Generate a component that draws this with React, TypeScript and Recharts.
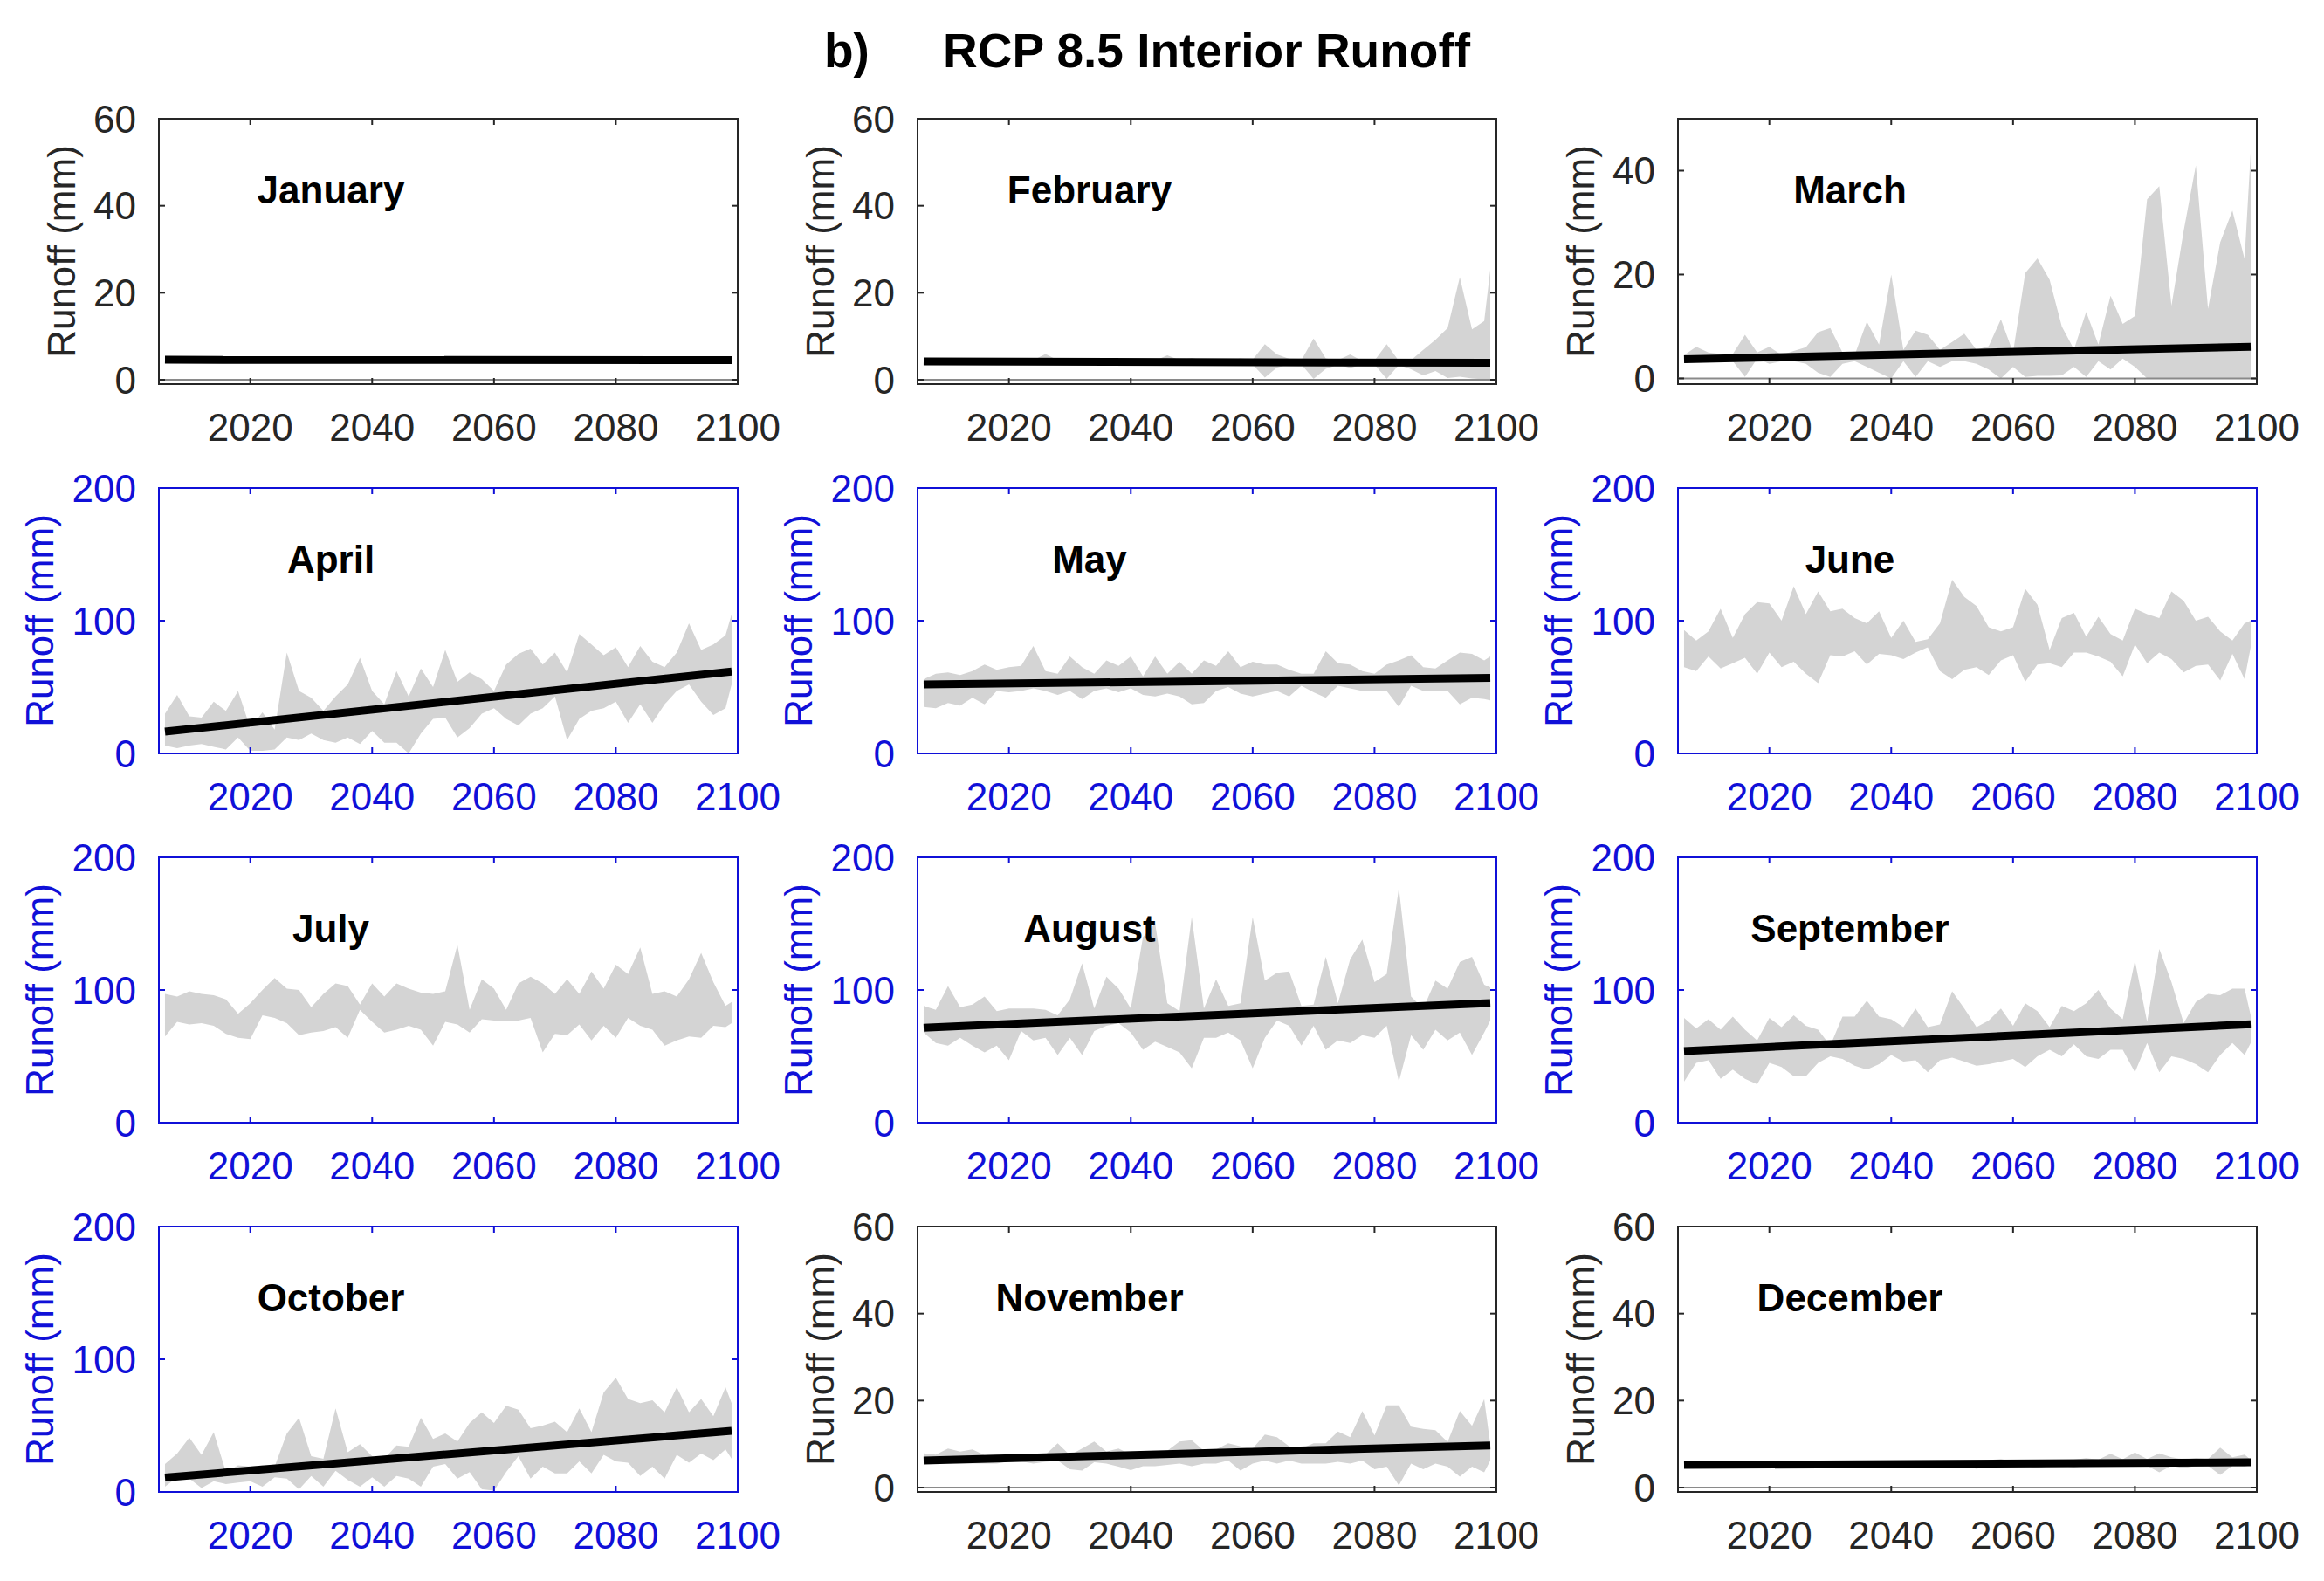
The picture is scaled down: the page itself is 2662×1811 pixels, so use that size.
import { Area, ComposedChart, Line, ReferenceArea, ReferenceLine, XAxis, YAxis } from "recharts";

// Sample years (every second year, plus the final year of the record)
const YEARS = [
  2006, 2008, 2010, 2012, 2014, 2016, 2018, 2020, 2022, 2024, 2026, 2028, 2030, 2032, 2034, 2036,
  2038, 2040, 2042, 2044, 2046, 2048, 2050, 2052, 2054, 2056, 2058, 2060, 2062, 2064, 2066, 2068,
  2070, 2072, 2074, 2076, 2078, 2080, 2082, 2084, 2086, 2088, 2090, 2092, 2094, 2096, 2098, 2099,
];
const X_TICKS = [2020, 2040, 2060, 2080, 2100];

// Ensemble min / max envelope (mm)
const FEB_HIGH = [4.6, 4.5, 4.5, 4.5, 4.6, 4.5, 4.6, 4.4, 4.6, 4.5, 5.9, 4.5, 4.6, 4.5, 4.8, 4.4, 4.5, 4.6, 4.5, 4.4, 5.6, 4.5, 5.0, 4.4, 4.5, 4.4, 4.9, 4.6, 8.2, 5.8, 4.8, 4.5, 9.5, 4.9, 4.5, 5.8, 4.3, 4.4, 8.2, 4.3, 4.5, 6.9, 9.2, 11.9, 23.6, 11.6, 13.5, 25.3];
const FEB_LOW = [3.7, 3.7, 3.7, 3.7, 3.7, 3.7, 3.7, 3.7, 3.6, 3.7, 3.4, 3.7, 3.7, 3.7, 3.6, 3.7, 3.7, 3.7, 3.7, 3.6, 3.2, 3.7, 3.6, 3.6, 3.6, 3.6, 3.3, 3.5, 0.5, 2.8, 3.5, 3.5, 0.2, 2.5, 3.5, 2.7, 3.5, 3.5, 0.2, 3.4, 2.4, 1.0, 2.0, 0.4, 0.7, 0.3, 0.1, 0.2];
const MAR_HIGH = [4.5, 6.1, 5.0, 4.7, 4.7, 8.4, 5.0, 6.1, 4.5, 5.3, 6.0, 8.9, 9.7, 5.0, 4.5, 10.9, 6.5, 20.0, 5.5, 9.2, 8.4, 5.5, 7.0, 8.6, 5.5, 6.2, 11.4, 5.0, 20.3, 23.1, 19.0, 10.0, 5.6, 12.8, 6.5, 15.9, 10.5, 12.0, 34.5, 37.0, 14.0, 28.4, 41.0, 13.4, 26.2, 32.3, 23.0, 43.5];
const MAR_LOW = [3.3, 3.8, 3.8, 3.8, 3.3, 0.3, 3.8, 2.8, 3.3, 3.3, 2.8, 1.1, 0.3, 2.8, 3.3, 2.2, 1.1, 0.0, 3.3, 0.3, 3.3, 2.2, 3.3, 3.3, 2.8, 1.7, 0.0, 2.2, 0.3, 0.5, 0.5, 0.6, 2.2, 0.3, 3.3, 1.7, 3.8, 2.2, 0.0, 0.0, 0, 0, 0, 0, 0, 0, 0, 0];
const APR_HIGH = [30, 44, 28, 27, 39, 32, 47, 19, 31, 18, 76, 47, 42, 32, 43, 52, 72, 47, 37, 62, 43, 64, 50, 78, 54, 61, 56, 47, 67, 75, 79, 67, 76, 61, 90, 82, 74, 80, 65, 81, 69, 65, 76, 98, 78, 82, 89, 105];
const APR_LOW = [6, 4, 6, 7, 5, 3, 12, 2, 2, 3, 12, 10, 15, 10, 8, 12, 7, 17, 8, 8, 0, 15, 26, 27, 12, 19, 30, 34, 26, 21, 30, 34, 43, 10, 26, 32, 34, 39, 23, 37, 23, 37, 47, 52, 39, 29, 34, 52];
const MAY_HIGH = [56, 60, 61, 59, 62, 67, 63, 65, 66, 81, 62, 60, 73, 65, 60, 70, 66, 73, 58, 73, 60, 69, 60, 70, 66, 77, 65, 69, 67, 67, 63, 60, 60, 77, 68, 67, 62, 60, 67, 70, 74, 65, 64, 70, 76, 75, 70, 73];
const MAY_LOW = [35, 34, 38, 36, 42, 37, 47, 46, 47, 49, 47, 44, 47, 41, 47, 49, 46, 49, 44, 43, 45, 43, 37, 38, 47, 50, 45, 43, 45, 47, 43, 51, 46, 42, 51, 49, 47, 47, 47, 35, 51, 47, 47, 47, 37, 42, 41, 40];
const JUN_HIGH = [93, 85, 92, 109, 87, 105, 114, 113, 100, 126, 105, 122, 107, 109, 102, 98, 107, 87, 100, 84, 86, 98, 131, 118, 111, 95, 92, 95, 124, 112, 78, 102, 106, 88, 103, 90, 85, 109, 105, 102, 122, 115, 100, 103, 92, 85, 98, 100];
const JUN_LOW = [65, 62, 73, 64, 68, 72, 60, 76, 65, 69, 60, 53, 74, 73, 77, 67, 75, 74, 71, 76, 80, 62, 56, 63, 65, 59, 70, 74, 54, 67, 68, 65, 76, 76, 73, 69, 58, 82, 68, 76, 71, 61, 66, 67, 55, 75, 56, 80];
const JUL_HIGH = [97, 95, 99, 97, 96, 93, 82, 90, 100, 109, 101, 100, 87, 97, 105, 103, 89, 105, 95, 105, 101, 98, 97, 99, 134, 85, 108, 101, 85, 105, 110, 105, 97, 108, 97, 114, 101, 119, 112, 132, 97, 99, 95, 108, 128, 106, 88, 91];
const JUL_LOW = [65, 76, 74, 75, 73, 67, 64, 63, 81, 79, 75, 66, 68, 69, 72, 64, 85, 76, 68, 70, 73, 70, 58, 76, 74, 68, 78, 77, 77, 77, 79, 53, 67, 66, 74, 62, 73, 64, 79, 73, 70, 58, 62, 65, 64, 73, 72, 75];
const AUG_HIGH = [88, 85, 103, 87, 89, 95, 84, 86, 86, 86, 85, 81, 93, 120, 86, 110, 101, 86, 140, 150, 90, 84, 155, 86, 108, 88, 90, 155, 107, 113, 114, 88, 89, 125, 90, 123, 138, 106, 112, 177, 95, 86, 107, 101, 121, 125, 104, 102];
const AUG_LOW = [68, 60, 58, 64, 58, 53, 58, 47, 69, 62, 64, 51, 64, 51, 69, 73, 75, 68, 55, 61, 57, 53, 41, 64, 64, 68, 62, 41, 64, 77, 73, 58, 73, 55, 62, 60, 66, 64, 73, 31, 66, 55, 70, 62, 68, 51, 68, 77];
const SEP_HIGH = [79, 71, 78, 70, 80, 70, 62, 79, 72, 81, 73, 70, 58, 80, 80, 92, 80, 78, 72, 86, 72, 74, 99, 86, 72, 77, 86, 73, 90, 84, 72, 88, 84, 90, 100, 86, 78, 122, 76, 131, 106, 75, 91, 97, 96, 101, 101, 81];
const SEP_LOW = [31, 45, 47, 33, 40, 33, 29, 45, 42, 35, 35, 45, 50, 48, 43, 40, 44, 51, 46, 47, 38, 47, 49, 46, 43, 44, 46, 48, 42, 50, 55, 50, 59, 50, 48, 55, 55, 38, 60, 38, 50, 48, 44, 38, 51, 60, 51, 60];
const OCT_HIGH = [21, 29, 41, 28, 45, 15, 20, 19, 20, 19, 44, 56, 27, 25, 63, 30, 36, 27, 25, 35, 34, 56, 40, 44, 38, 52, 60, 52, 65, 62, 48, 50, 53, 45, 63, 45, 75, 86, 70, 67, 69, 60, 79, 60, 70, 57, 79, 67];
const OCT_LOW = [4, 11, 10, 3, 8, 6, 7, 8, 4, 11, 10, 2, 12, 4, 16, 9, 4, 11, 4, 12, 10, 4, 19, 21, 10, 15, 2, 1, 15, 27, 10, 19, 14, 14, 23, 14, 28, 23, 22, 12, 19, 10, 28, 22, 29, 24, 32, 25];
const NOV_HIGH = [7.9, 7.6, 9.0, 8.3, 8.8, 7.5, 7.6, 7.3, 7.5, 7.0, 7.6, 10.2, 7.5, 9.0, 10.6, 8.3, 9.0, 7.6, 8.0, 8.0, 8.5, 10.6, 10.9, 8.5, 8.8, 10.2, 9.5, 9.0, 12.2, 11.6, 9.5, 9.0, 10.2, 10.2, 12.9, 11.6, 17.6, 12.0, 18.9, 18.9, 14.0, 13.5, 13.2, 10.5, 17.6, 14.2, 20.3, 10.0];
const NOV_LOW = [5.5, 6.0, 5.6, 5.5, 5.5, 5.5, 5.5, 6.0, 6.0, 5.5, 5.9, 6.2, 4.2, 3.9, 5.8, 5.5, 4.8, 4.0, 4.9, 4.9, 5.2, 5.5, 4.9, 5.5, 5.5, 6.2, 3.9, 5.5, 6.2, 5.5, 6.2, 5.5, 5.5, 5.5, 5.9, 5.5, 6.2, 4.2, 4.8, 0.5, 5.5, 4.2, 5.5, 4.8, 2.5, 4.8, 3.5, 6.2];
const DEC_HIGH = [5.6, 5.6, 5.7, 5.5, 5.6, 5.6, 5.5, 5.6, 5.5, 5.7, 5.6, 5.6, 5.8, 6.2, 5.7, 5.7, 5.6, 5.8, 5.7, 6.0, 5.9, 6.0, 5.8, 5.9, 6.0, 6.3, 6.6, 6.0, 6.1, 6.2, 6.0, 6.2, 6.4, 6.8, 6.4, 7.8, 6.5, 8.1, 6.6, 7.9, 7.0, 6.5, 6.8, 6.6, 9.2, 7.0, 7.6, 6.4];
const DEC_LOW = [4.9, 4.9, 4.9, 4.9, 4.9, 4.9, 4.9, 4.9, 4.9, 4.9, 4.9, 4.9, 4.9, 4.9, 4.9, 4.9, 4.9, 4.5, 4.9, 4.9, 4.9, 5.0, 5.0, 5.0, 4.3, 5.0, 5.0, 5.0, 5.0, 4.4, 5.0, 5.0, 4.6, 5.0, 5.0, 5.0, 5.0, 5.0, 5.0, 3.5, 5.0, 4.4, 5.0, 5.0, 2.9, 5.0, 4.8, 5.2];

// Linear trend, value at first and last year
const JAN_TREND = [4.6, 4.5];
const FEB_TREND = [4.2, 3.9];
const MAR_TREND = [3.7, 6.1];
const APR_TREND = [16.4, 61.7];
const MAY_TREND = [51.9, 56.9];
const AUG_TREND = [71.6, 90.2];
const SEP_TREND = [54.0, 74.2];
const OCT_TREND = [10.9, 46.0];
const NOV_TREND = [6.2, 9.7];
const DEC_TREND = [5.2, 5.8];

const FONT = "'Liberation Sans', Arial, Helvetica, sans-serif";
const BLUE = "#1010d8";
const DARK = "#262626";
const BAND = "#d4d4d4";

const PLOT_W = 663;
const PLOT_H = 304;
const TICK = 7;
const COL_LEFT = [182, 1051, 1922];
const ROW_TOP = [136, 559, 982, 1405];
const Y_AXIS_W = 170;
const TOP_M = 40;
const RIGHT_M = 64;
const X_AXIS_H = 90;

type Scale = "small" | "march" | "large";

const AXES: Record<
  Scale,
  { domain: [number, number]; ticks: number[]; color: string; zeroLine: boolean; labelGap: number }
> = {
  small: { domain: [-1, 60], ticks: [0, 20, 40, 60], color: DARK, zeroLine: true, labelGap: 96 },
  march: { domain: [-1.1, 50], ticks: [0, 20, 40], color: DARK, zeroLine: true, labelGap: 96 },
  large: { domain: [0, 200], ticks: [0, 100, 200], color: BLUE, zeroLine: false, labelGap: 121 },
};

type PanelDef = {
  month: string;
  low: number[] | null;
  high: number[] | null;
  trend: number[] | null;
  scale: Scale;
};

const PANELS: PanelDef[] = [
  { month: "January", low: null, high: null, trend: JAN_TREND, scale: "small" },
  { month: "February", low: FEB_LOW, high: FEB_HIGH, trend: FEB_TREND, scale: "small" },
  { month: "March", low: MAR_LOW, high: MAR_HIGH, trend: MAR_TREND, scale: "march" },
  { month: "April", low: APR_LOW, high: APR_HIGH, trend: APR_TREND, scale: "large" },
  { month: "May", low: MAY_LOW, high: MAY_HIGH, trend: MAY_TREND, scale: "large" },
  { month: "June", low: JUN_LOW, high: JUN_HIGH, trend: null, scale: "large" },
  { month: "July", low: JUL_LOW, high: JUL_HIGH, trend: null, scale: "large" },
  { month: "August", low: AUG_LOW, high: AUG_HIGH, trend: AUG_TREND, scale: "large" },
  { month: "September", low: SEP_LOW, high: SEP_HIGH, trend: SEP_TREND, scale: "large" },
  { month: "October", low: OCT_LOW, high: OCT_HIGH, trend: OCT_TREND, scale: "large" },
  { month: "November", low: NOV_LOW, high: NOV_HIGH, trend: NOV_TREND, scale: "small" },
  { month: "December", low: DEC_LOW, high: DEC_HIGH, trend: DEC_TREND, scale: "small" },
];

// MATLAB-style inward ticks on both sides of the box
function XTick({ x, y, payload, color }: any) {
  return (
    <g>
      <line x1={x} x2={x} y1={y} y2={y - TICK} stroke={color} strokeWidth={2} />
      <line x1={x} x2={x} y1={y - PLOT_H} y2={y - PLOT_H + TICK} stroke={color} strokeWidth={2} />
      <text x={x} y={y + 65} textAnchor="middle" fontSize={44} fontFamily={FONT} fill={color}>
        {payload.value}
      </text>
    </g>
  );
}

function YTick({ x, y, payload, color }: any) {
  return (
    <g>
      <line x1={x} x2={x + TICK} y1={y} y2={y} stroke={color} strokeWidth={2} />
      <line x1={x + PLOT_W} x2={x + PLOT_W - TICK} y1={y} y2={y} stroke={color} strokeWidth={2} />
      <text x={x - 26} y={y + 15.5} textAnchor="end" fontSize={44} fontFamily={FONT} fill={color}>
        {payload.value}
      </text>
    </g>
  );
}

function Panel({ def, left, top }: { def: PanelDef; left: number; top: number }) {
  const axis = AXES[def.scale];
  const last = YEARS.length - 1;
  const rows = YEARS.map((year, i) => ({
    year,
    range: def.low && def.high ? [def.low[i], def.high[i]] : null,
    trend: def.trend ? (i === 0 ? def.trend[0] : i === last ? def.trend[1] : null) : null,
  }));

  return (
    <div style={{ position: "absolute", left: left - Y_AXIS_W, top: top - TOP_M }}>
      <ComposedChart
        width={Y_AXIS_W + PLOT_W + RIGHT_M}
        height={TOP_M + PLOT_H + X_AXIS_H}
        data={rows}
        margin={{ top: TOP_M, right: RIGHT_M, bottom: 0, left: 0 }}
      >
        <XAxis
          dataKey="year"
          type="number"
          domain={[2005, 2100]}
          ticks={X_TICKS}
          interval={0}
          allowDataOverflow
          axisLine={false}
          tickLine={false}
          tickSize={0}
          tickMargin={0}
          height={X_AXIS_H}
          tick={(p: any) => <XTick {...p} color={axis.color} />}
        />
        <YAxis
          type="number"
          domain={axis.domain}
          ticks={axis.ticks}
          interval={0}
          allowDataOverflow
          axisLine={false}
          tickLine={false}
          tickSize={0}
          tickMargin={0}
          width={Y_AXIS_W}
          tick={(p: any) => <YTick {...p} color={axis.color} />}
        />
        {def.low && (
          <Area
            dataKey="range"
            type="linear"
            stroke="none"
            fill={BAND}
            fillOpacity={1}
            dot={false}
            activeDot={false}
            isAnimationActive={false}
          />
        )}
        {def.trend && (
          <Line
            dataKey="trend"
            type="linear"
            stroke="#000"
            strokeWidth={9}
            dot={false}
            activeDot={false}
            connectNulls
            isAnimationActive={false}
          />
        )}
        {axis.zeroLine && <ReferenceLine y={0} stroke="#8a8a8a" strokeWidth={2} />}
        <ReferenceArea
          x1={2005}
          x2={2100}
          y1={axis.domain[0]}
          y2={axis.domain[1]}
          fill="none"
          fillOpacity={0}
          stroke={axis.color}
          strokeWidth={2}
        />
      </ComposedChart>
    </div>
  );
}

export default function App() {
  return (
    <div
      style={{
        position: "absolute",
        left: 0,
        top: 0,
        width: 2662,
        height: 1811,
        background: "#fff",
        overflow: "hidden",
      }}
    >
      {PANELS.map((def, i) => (
        <Panel key={def.month} def={def} left={COL_LEFT[i % 3]} top={ROW_TOP[Math.floor(i / 3)]} />
      ))}
      <svg
        width={2662}
        height={1811}
        style={{ position: "absolute", left: 0, top: 0, pointerEvents: "none" }}
      >
        <text x={944} y={77} fontSize={55} fontWeight="bold" fontFamily={FONT} fill="#000">
          b)
        </text>
        <text x={1080} y={77} fontSize={55} fontWeight="bold" fontFamily={FONT} fill="#000">
          RCP 8.5 Interior Runoff
        </text>
        {PANELS.map((def, i) => {
          const left = COL_LEFT[i % 3];
          const top = ROW_TOP[Math.floor(i / 3)];
          const axis = AXES[def.scale];
          const lx = left - axis.labelGap;
          const ly = top + PLOT_H / 2;
          return (
            <g key={def.month}>
              <text
                x={left + 197}
                y={top + 97}
                textAnchor="middle"
                fontSize={44}
                fontWeight="bold"
                fontFamily={FONT}
                fill="#000"
              >
                {def.month}
              </text>
              <text
                x={lx}
                y={ly}
                transform={`rotate(-90 ${lx} ${ly})`}
                textAnchor="middle"
                fontSize={44}
                fontFamily={FONT}
                fill={axis.color}
              >
                Runoff (mm)
              </text>
            </g>
          );
        })}
      </svg>
    </div>
  );
}
